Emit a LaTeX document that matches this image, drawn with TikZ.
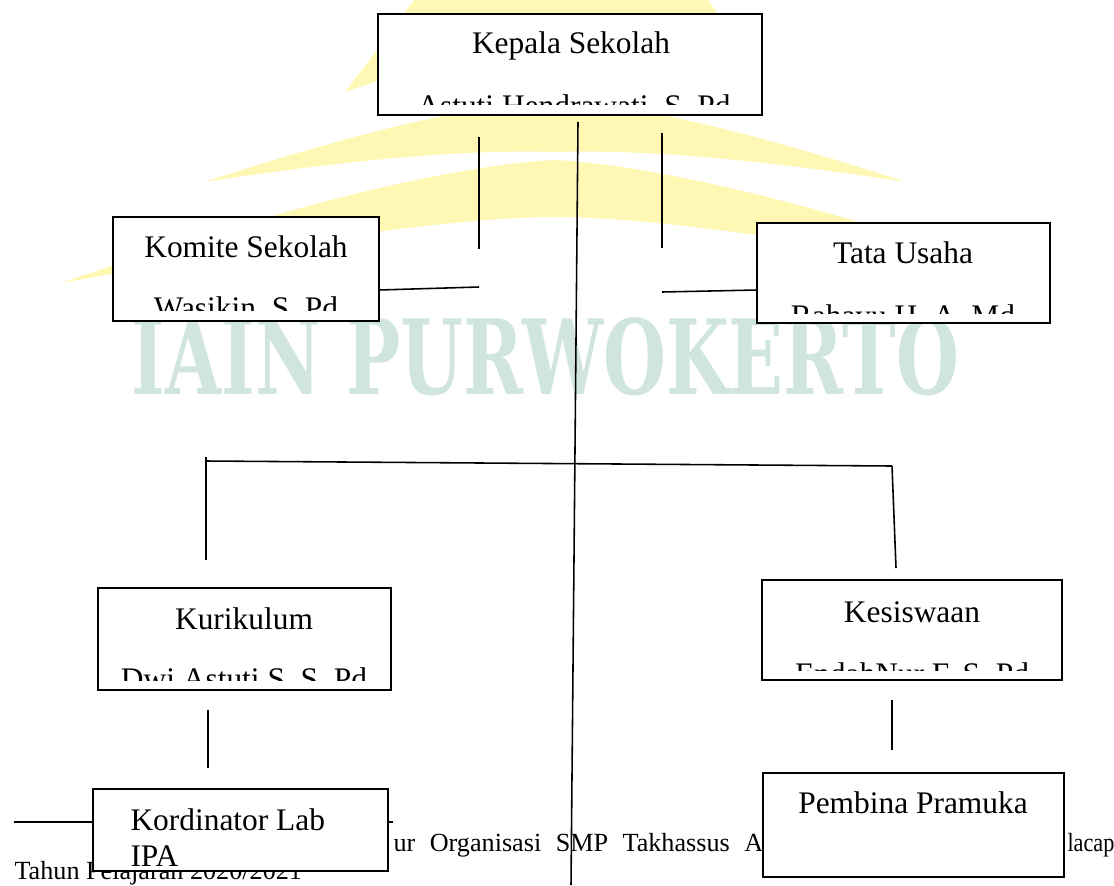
\documentclass[tikz,border=0pt]{standalone}
\usepackage{fontspec}
\setmainfont{Liberation Serif}
\newfontfamily\wmfont{DejaVu Serif}
\usetikzlibrary{fit}
\definecolor{wmteal}{HTML}{D0E5DD}
\definecolor{wmyellow}{HTML}{FFF8B4}

\begin{document}
\begin{tikzpicture}[x=0.382pt,y=-0.382pt,
  orgbox/.style={draw=black, fill=white, line width=0.8pt, inner sep=0pt},
  boxtext/.style={anchor=base, inner sep=0pt, font=\fontsize{12}{14}\selectfont},
  foot/.style={inner sep=0pt, font=\fontsize{10}{12}\selectfont},
  link/.style={draw=black, line width=0.6pt}]
\useasboundingbox (0,0) rectangle (1114,885);
% watermark behind the chart
\fill[wmyellow] (204,182) .. controls (380,125) and (480,105) .. (555,100) .. controls (630,105) and (730,125) .. (906,182)
  .. controls (730,155) and (630,150) .. (555,152) .. controls (480,150) and (380,155) .. (204,182) -- cycle;
\fill[wmyellow] (61,283) .. controls (300,200) and (460,165) .. (555,160) .. controls (650,165) and (810,200) .. (1049,283)
  .. controls (810,240) and (650,217) .. (555,217) .. controls (460,217) and (300,240) .. (61,283) -- cycle;
\fill[wmyellow] (345,92) .. controls (370,60) and (395,25) .. (414,0) -- (708,0) .. controls (715,10) and (722,20) .. (726,27)
  -- (726,80) -- (380,80) -- cycle;
\node[text=wmteal, inner sep=0pt] (wmtext) at (545.5,356.5)
  {\resizebox{315.9pt}{29.4pt}{\wmfont\bfseries IAIN PURWOKERTO}};

% free ends of the connectors
\coordinate (topA) at (578,122);
\coordinate (topB) at (571,885);
\coordinate (l1) at (479,137);
\coordinate (l2) at (479,249);
\coordinate (l3) at (479,287);
\coordinate (r1) at (662,133);
\coordinate (r2) at (662,248);
\coordinate (r3) at (662,292);
\coordinate (hl) at (206,461);
\coordinate (hr) at (892,466);
\coordinate (hl0) at (206,457);
\coordinate (hl1) at (206,560);
\coordinate (hr1) at (896,568);
\coordinate (kur1) at (208,710);
\coordinate (kur2) at (208,768);
\coordinate (kes1) at (892,700);
\coordinate (kes2) at (892,750);
\coordinate (fr1) at (14,822);
\coordinate (fr2) at (393,822);
\coordinate (kom) at (379,290);
\coordinate (tat) at (757,290);

\draw[link] (topA) -- (topB);
\draw[link] (l1) -- (l2);
\draw[link] (r1) -- (r2);
\draw[link] (kom) -- (l3);
\draw[link] (r3) -- (tat);
\draw[link] (hl) -- (hr);
\draw[link] (hl0) -- (hl1);
\draw[link] (hr) -- (hr1);
\draw[link] (kur1) -- (kur2);
\draw[link] (kes1) -- (kes2);

% footnote under the chart
\draw[line width=0.5pt] (fr1) -- (fr2);
\node[foot, anchor=base west] (foot1) at (393,851) {\makebox[144pt][s]{ur Organisasi SMP Takhassus Al}};
\node[foot, anchor=base west] (foot2) at (1067,851) {\scalebox{0.85}[1]{lacap}};
\node[foot, anchor=base west] (foot3) at (14,879) {Tahun Pelajaran 2020/2021};

% boxes
\node[orgbox, fit={(378,14) (762,115)}] (kepala) {};
\node[boxtext] (kepalaT) at (571,54) {Kepala Sekolah};
\begin{scope}
\clip (378,14) rectangle (762,104);
\node[boxtext] (kepalaN) at (574,116) {Astuti Hendrawati, S. Pd};
\end{scope}

\node[orgbox, fit={(113,217) (379,321)}] (komite) {};
\node[boxtext] (komiteT) at (246,257) {Komite Sekolah};
\begin{scope}
\clip (113,217) rectangle (379,310);
\node[boxtext] (komiteN) at (246,318) {Wasikin, S. Pd};
\end{scope}

\node[orgbox, fit={(757,223) (1050,323)}] (tata) {};
\node[boxtext] (tataT) at (903,263) {Tata Usaha};
\begin{scope}
\clip (757,223) rectangle (1050,313);
\node[boxtext] (tataN) at (903,326) {Rahayu H, A. Md};
\end{scope}

\node[orgbox, fit={(98,588) (391,690)}] (kurikulum) {};
\node[boxtext] (kurikulumT) at (244,629) {Kurikulum};
\begin{scope}
\clip (98,588) rectangle (391,680);
\node[boxtext] (kurikulumN) at (244,689) {Dwi Astuti S, S. Pd};
\end{scope}

\node[orgbox, fit={(762,580) (1062,680)}] (kesiswaan) {};
\node[boxtext] (kesiswaanT) at (912,622) {Kesiswaan};
\begin{scope}
\clip (762,580) rectangle (1062,670);
\node[boxtext] (kesiswaanN) at (912,684) {EndahNur F, S. Pd};
\end{scope}

\node[orgbox, fit={(93,789) (388,871)}] (labipa) {};
\node[boxtext, anchor=base west] (labipaT) at (130,830) {Kordinator Lab};
\node[boxtext, anchor=base west] (labipaN) at (130,866) {IPA};

\node[orgbox, fit={(763,773) (1064,877)}] (pramuka) {};
\node[boxtext] (pramukaT) at (913,813) {Pembina Pramuka};
\end{tikzpicture}
\end{document}
